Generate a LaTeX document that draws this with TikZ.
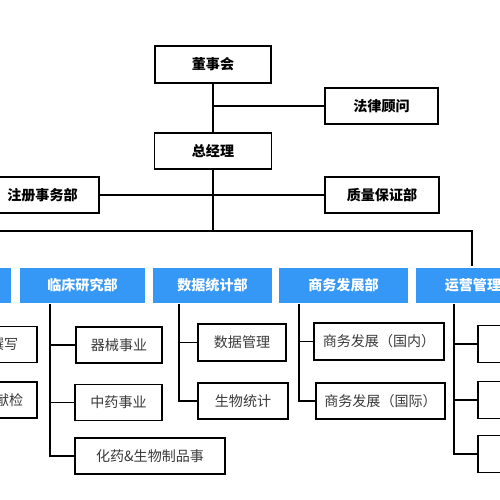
\documentclass[tikz,border=0pt]{standalone}
\usepackage{fontspec}
\newfontfamily\cjk{Noto Sans CJK SC}
\usepackage{tikz}
\usetikzlibrary{positioning}
\definecolor{dept}{HTML}{3598F6}
\definecolor{ink}{HTML}{3A3A3A}
\tikzset{link/.style={line width=1.1pt,draw=black},
  box/.style={draw=black,line width=1.1pt,fill=white,minimum height=0.72cm,inner sep=0pt,font=\cjk\fontsize{8}{10}\selectfont,text=ink},
  topbox/.style={box,font=\cjk\bfseries\fontsize{8}{10}\selectfont,text=black},
  deptbox/.style={draw=white,line width=0.6pt,fill=dept,minimum height=0.74cm,inner sep=0pt,font=\cjk\bfseries\fontsize{8}{10}\selectfont,text=white}}

\begin{document}
\begin{tikzpicture}[x=0.2mm,y=-0.2mm]
\useasboundingbox (0,0) rectangle (500,500);
% top of the chart
\node[topbox,minimum width=2.32cm,minimum height=0.74cm] (board) at (213,64.5) {董事会};
\node[topbox,minimum width=2.26cm] (legal) at (381.5,106) {法律顾问};
\node[topbox,minimum width=2.34cm] (gm) at (213,151) {总经理};
\node[topbox,minimum width=2.26cm] (reg) at (42.5,195) {注册事务部};
\node[topbox,minimum width=2.28cm] (qa) at (382,195) {质量保证部};
\draw[link] (board.south) -- (gm.north);
\draw[link] (legal.west) -- (legal.west -| board.south);
\draw[link] (reg.east) -- (qa.west);
% departments
\node[deptbox,minimum width=2.54cm] (leftdept) at (-51.5,285.5) {};
\node[deptbox,minimum width=2.54cm] (clin) at (82.5,285.5) {临床研究部};
\node[deptbox,minimum width=2.42cm] (data) at (212.5,285.5) {数据统计部};
\node[deptbox,minimum width=2.62cm] (biz) at (343.5,285.5) {商务发展部};
\node[deptbox,minimum width=2.6cm] (ops) at (480,285.5) {运营管理部};
\coordinate (busL) at (-20,231);
\coordinate (busR) at (472,231);
\draw[link] (gm.south) -- (gm.south |- busR);
\draw[link] (busL) -- (busR) -- (busR |- ops.north);
% units under each department
\node[box,minimum width=1.88cm] (lwrite) at (-10,344.5) {医学撰写};
\node[box,minimum width=1.96cm] (lsearch) at (-12,400) {医学文献检};
\node[box,minimum width=1.72cm] (mech) at (119,345) {器械事业};
\node[box,minimum width=1.74cm] (tcm) at (118.5,402.5) {中药事业};
\node[box,minimum width=3.0cm] (chem) at (150,456) {化药\&生物制品事};
\node[box,minimum width=1.76cm,minimum height=0.74cm] (dm) at (242,342.5) {数据管理};
\node[box,minimum width=1.8cm] (bio) at (243,401) {生物统计};
\node[box,minimum width=2.6cm,minimum height=0.74cm] (home) at (379,341.5) {商务发展（国内）};
\node[box,minimum width=2.58cm] (intl) at (380.5,401) {商务发展（国际）};
\node[box,minimum width=2.24cm,minimum height=0.74cm] (opsa) at (534,344) {};
\node[box,minimum width=2.24cm,minimum height=0.74cm] (opsb) at (534,400) {};
\node[box,minimum width=2.24cm,minimum height=0.74cm] (opsc) at (534,454) {};
\coordinate (clinbar) at (50,304);
\coordinate (databar) at (179,304);
\coordinate (bizbar) at (299,304);
\coordinate (opsbar) at (454,304);
\draw[link] (clinbar) |- (mech.west);
\draw[link] (clinbar) |- (tcm.west);
\draw[link] (clinbar) |- (chem.west);
\draw[link] (databar) |- (dm.west);
\draw[link] (databar) |- (bio.west);
\draw[link] (bizbar) |- (home.west);
\draw[link] (bizbar) |- (intl.west);
\draw[link] (opsbar) |- (opsa.west);
\draw[link] (opsbar) |- (opsb.west);
\draw[link] (opsbar) |- (opsc.west);
\end{tikzpicture}
\end{document}
